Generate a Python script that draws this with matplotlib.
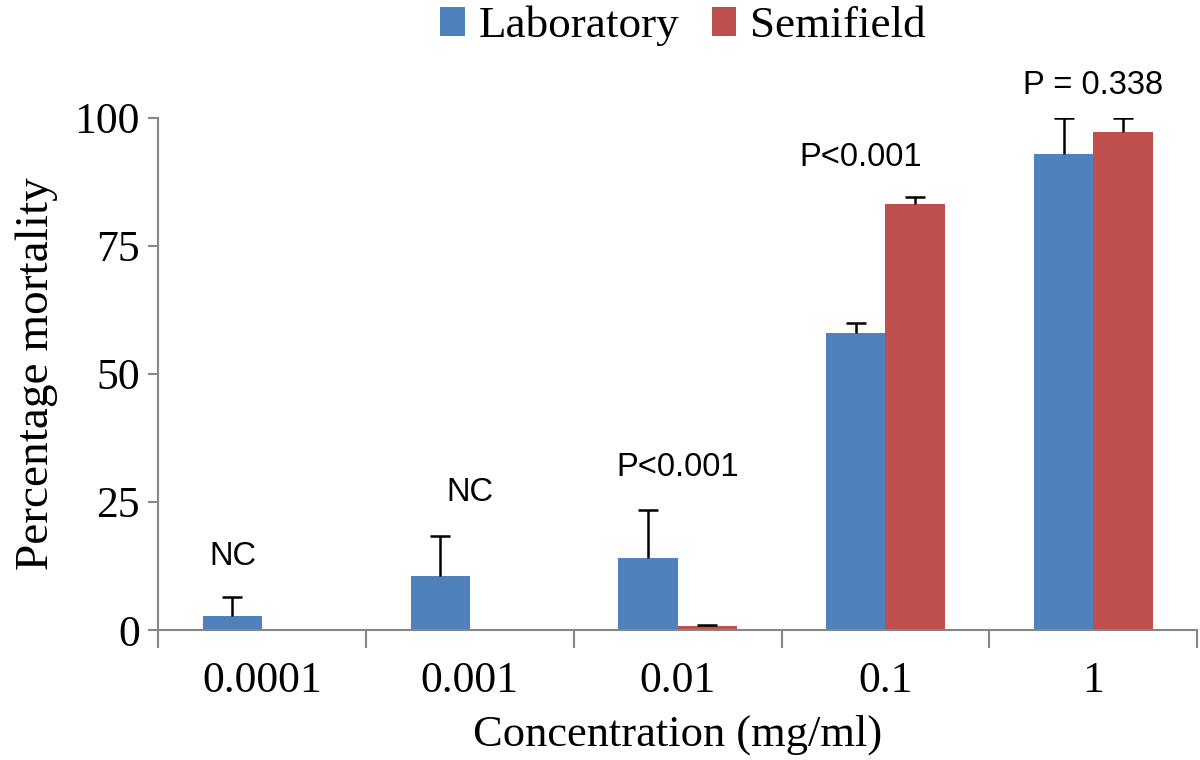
import matplotlib.pyplot as plt
import numpy as np

concentrations = ["0.0001", "0.001", "0.01", "0.1", "1"]
lab_mean = [2.8, 10.5, 14.1, 57.9, 93.0]
lab_err = [3.6, 7.9, 9.3, 2.0, 7.0]
semi_mean = [0.0, 0.0, 0.7, 83.1, 97.3]
semi_err = [0.0, 0.0, 0.2, 1.5, 2.7]
p_labels = ["NC", "NC", "P<0.001", "P<0.001", "P = 0.338"]
p_label_y = [14.3, 26.8, 31.8, 92.2, 106.4]
p_label_dx = [-0.14, 0.0, 0.0, -0.12, 0.0]

LAB_COLOR = "#4F81BD"
SEMI_COLOR = "#C0504D"
AXIS_COLOR = "#868686"
SERIF = "Liberation Serif"
SANS = "Liberation Sans"

fig = plt.figure(figsize=(12, 7.6), dpi=100)
ax = fig.add_axes([0.1317, 0.171, 0.866, 0.674])

x = np.arange(len(concentrations))
width = 0.285
ax.bar(x - width / 2, lab_mean, width, color=LAB_COLOR, label="Laboratory")
ax.bar(x + width / 2, semi_mean, width, color=SEMI_COLOR, label="Semifield")

# upper-only error bars: stem from bar top and a cap at the end
for xs, mean, err in [(x - width / 2, lab_mean, lab_err),
                      (x + width / 2, semi_mean, semi_err)]:
    mean = np.array(mean)
    top = mean + np.array(err)
    show = top > 0
    ax.vlines(xs[show], mean[show], top[show], color="black", lw=1.8)
    ax.plot(xs[show], top[show], ls="none", marker="_", ms=14,
            mew=1.8, color="black")

for i, (txt, yv, dx) in enumerate(zip(p_labels, p_label_y, p_label_dx)):
    ax.text(i + dx, yv, txt, ha="center", va="center", fontsize=23.5,
            family=SANS, clip_on=False)

ax.set_xlim(-0.5, len(x) - 0.5)
ax.set_ylim(0, 100)
ax.set_yticks([0, 25, 50, 75, 100])
ax.set_xticks(x)
ax.set_xticklabels(concentrations)
ax.set_xticks(np.arange(len(x) + 1) - 0.5, minor=True)
ax.tick_params(axis="x", which="major", length=0, pad=22)
ax.tick_params(axis="x", which="minor", length=13, width=1.5, color=AXIS_COLOR)
ax.tick_params(axis="y", length=7, width=1.5, color=AXIS_COLOR, pad=6)
for lbl in ax.get_xticklabels() + ax.get_yticklabels():
    lbl.set_family(SERIF)
    lbl.set_fontsize(31.5)

for side in ["top", "right"]:
    ax.spines[side].set_visible(False)
for side in ["left", "bottom"]:
    ax.spines[side].set_color(AXIS_COLOR)
    ax.spines[side].set_linewidth(1.5)

ax.set_xlabel("Concentration (mg/ml)", family=SERIF, fontsize=32, labelpad=10)
ax.set_ylabel("Percentage mortality", family=SERIF, fontsize=34, labelpad=12)

fig.legend(loc="upper center", bbox_to_anchor=(0.569, 1.046), ncol=2,
           frameon=False, prop={"family": SERIF, "size": 32.5},
           handlelength=0.55, handleheight=0.6, handletextpad=0.3,
           columnspacing=0.72)

fig.savefig("out.png", dpi=100)
